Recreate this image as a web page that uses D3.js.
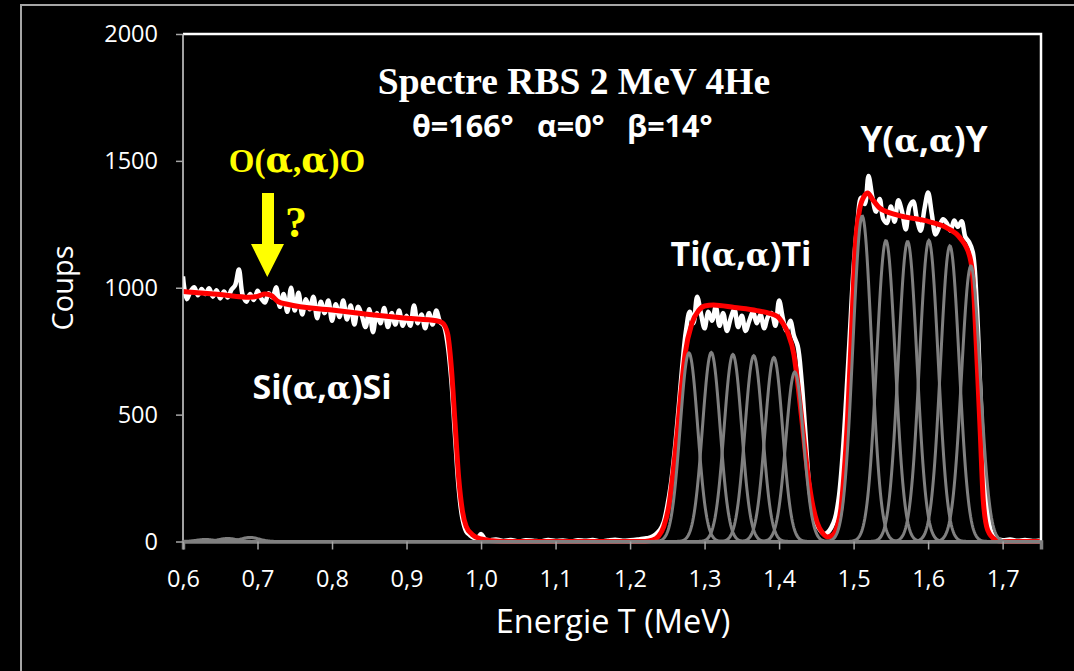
<!DOCTYPE html>
<html><head><meta charset="utf-8">
<script src="https://cdn.jsdelivr.net/npm/d3@7"></script>
<style>body{margin:0;background:#000;} svg{display:block;}</style>
</head><body>
<svg id="c" width="1074" height="671"></svg>
<script>
// ---------- data ----------
const xTickValues = [0.6,0.7,0.8,0.9,1.0,1.1,1.2,1.3,1.4,1.5,1.6,1.7];
const yTickValues = [0,500,1000,1500,2000];

// measured spectrum (white): [energy MeV, counts]
const measured = [
[0.600,1045],[0.605,955],[0.610,985],[0.615,1002],[0.620,970],[0.625,995],[0.630,975],[0.635,998],
[0.640,965],[0.645,990],[0.650,958],[0.655,985],[0.660,962],[0.665,992],[0.670,1010],[0.675,1072],
[0.680,972],[0.685,945],[0.690,975],[0.695,952],[0.700,988],[0.705,958],[0.710,942],[0.715,978],
[0.720,962],[0.725,1002],[0.730,925],[0.735,975],[0.740,905],[0.745,1000],[0.750,910],[0.755,980],
[0.760,895],[0.765,955],[0.770,915],[0.775,965],[0.780,880],[0.785,945],[0.790,900],[0.795,950],
[0.800,870],[0.805,935],[0.810,885],[0.815,950],[0.820,875],[0.825,930],[0.830,855],[0.835,925],
[0.840,890],[0.845,845],[0.850,915],[0.855,825],[0.860,900],[0.865,860],[0.870,920],[0.875,845],
[0.880,900],[0.885,855],[0.890,910],[0.895,850],[0.900,890],[0.905,850],[0.910,930],[0.915,860],
[0.920,895],[0.925,840],[0.930,900],[0.935,855],[0.940,910],[0.945,865],[0.950,850],[0.955,780],
[0.960,640],[0.965,420],[0.970,210],[0.975,90],[0.980,40],[0.985,25],[0.990,15],[0.995,12],
[1.000,30],[1.005,10],[1.010,5],[1.020,8],[1.030,2],[1.040,6],[1.050,0],[1.060,5],[1.070,3],
[1.080,0],[1.090,6],[1.100,2],[1.110,4],[1.120,0],[1.130,5],[1.140,3],[1.150,6],[1.160,0],
[1.170,4],[1.180,7],[1.190,3],[1.200,5],[1.210,8],[1.215,10],[1.220,12],[1.225,14],[1.230,20],
[1.235,30],[1.240,45],[1.245,75],[1.250,140],[1.255,230],[1.260,360],[1.265,520],[1.270,690],
[1.275,830],[1.280,905],[1.285,860],[1.290,965],[1.295,900],[1.300,840],[1.305,905],[1.310,870],
[1.315,925],[1.320,850],[1.325,900],[1.330,830],[1.335,880],[1.340,915],[1.345,845],[1.350,890],
[1.355,830],[1.360,870],[1.365,905],[1.370,860],[1.375,895],[1.380,840],[1.385,885],[1.390,900],
[1.395,850],[1.400,950],[1.405,880],[1.410,830],[1.415,870],[1.420,810],[1.425,770],[1.430,640],
[1.435,440],[1.440,230],[1.445,120],[1.450,70],[1.455,45],[1.460,30],[1.465,35],[1.470,55],
[1.475,90],[1.480,170],[1.485,330],[1.490,560],[1.495,820],[1.500,1080],[1.505,1250],[1.510,1355],
[1.515,1330],[1.520,1440],[1.525,1360],[1.530,1300],[1.535,1350],[1.540,1270],[1.545,1255],
[1.550,1320],[1.555,1260],[1.560,1345],[1.565,1300],[1.570,1230],[1.575,1320],[1.580,1340],
[1.585,1270],[1.590,1225],[1.595,1310],[1.600,1375],[1.605,1290],[1.610,1210],[1.615,1240],
[1.620,1270],[1.625,1255],[1.630,1225],[1.635,1265],[1.640,1240],[1.645,1262],[1.650,1200],
[1.655,1180],[1.660,1140],[1.665,950],[1.670,600],[1.675,300],[1.680,110],[1.685,35],[1.690,12],
[1.700,5],[1.710,8],[1.720,3],[1.730,6],[1.740,2],[1.750,4]
];

// simulated spectrum (red): [energy MeV, counts]
const simulated = [
[0.600,985],[0.650,973],[0.690,963],[0.700,966],[0.710,975],[0.718,970],[0.728,945],[0.740,935],
[0.800,912],[0.850,895],[0.900,880],[0.940,870],[0.948,862],[0.955,820],[0.960,690],[0.965,470],
[0.970,250],[0.975,120],[0.980,60],[0.988,28],[1.000,10],[1.015,3],[1.030,0],[1.220,0],[1.230,5],
[1.238,20],[1.245,57],[1.252,140],[1.258,282],[1.264,450],[1.268,580],[1.274,742],[1.283,860],
[1.292,910],[1.300,928],[1.312,932],[1.340,922],[1.370,910],[1.397,888],[1.405,860],[1.412,820],
[1.420,735],[1.426,600],[1.432,440],[1.438,280],[1.444,160],[1.451,75],[1.458,35],[1.465,18],
[1.472,25],[1.478,60],[1.483,130],[1.487,260],[1.492,491],[1.498,885],[1.502,1149],[1.508,1307],
[1.514,1360],[1.519,1373],[1.525,1350],[1.535,1314],[1.558,1287],[1.602,1260],[1.625,1236],
[1.643,1196],[1.656,1122],[1.660,1043],[1.665,755],[1.670,428],[1.674,164],[1.680,45],[1.690,8],
[1.700,0],[1.752,0]
];

// fitted gaussian components (grey): centres, heights, widths
const tiPeakE = [1.279,1.309,1.338,1.366,1.393,1.421];
const tiPeakH = [743,745,737,732,725,668];
const tiSigma = [0.0118,0.0118,0.0118,0.0118,0.0118,0.0118];
const yPeakE = [1.5116,1.5434,1.5725,1.601,1.6292,1.6574];
const yPeakH = [1282,1186,1182,1186,1165,1086];
const ySigma = [0.0125,0.0125,0.0125,0.0125,0.0125,0.0125];
const oPeakE = [0.630,0.660,0.690];
const oPeakH = [8,12,16];
const oSigma = [0.012,0.012,0.012];

// ---------- drawing ----------
const svg = d3.select("#c");
const W = 1074, H = 671;
svg.append("rect").attr("width",W).attr("height",H).attr("fill","#000");
svg.append("rect").attr("x",21).attr("y",5).attr("width",1100).attr("height",700)
   .attr("fill","none").attr("stroke","#a6a6a6").attr("stroke-width",2);

const m = {l:183, t:34, r:1041, b:541.5};
const x = d3.scaleLinear().domain([0.6,1.7515]).range([m.l,m.r]);
const y = d3.scaleLinear().domain([0,2000]).range([m.b,m.t]);

svg.append("defs").append("clipPath").attr("id","clp")
  .append("rect").attr("x",m.l).attr("y",m.t-20).attr("width",m.r-m.l).attr("height",m.b-m.t+25);
const plot = svg.append("g").attr("clip-path","url(#clp)");

plot.append("path").datum(measured)
  .attr("d", d3.line().x(d=>x(d[0])).y(d=>y(d[1])).curve(d3.curveCatmullRom.alpha(0.5)))
  .attr("fill","none").attr("stroke","#fff").attr("stroke-width",4.5).attr("stroke-linejoin","round");

plot.append("path").datum(simulated)
  .attr("d", d3.line().x(d=>x(d[0])).y(d=>y(d[1])).curve(d3.curveMonotoneX))
  .attr("fill","none").attr("stroke","#ff0000").attr("stroke-width",5).attr("stroke-linejoin","round");

const grid = d3.range(0.595, 1.756, 0.001);
function gauss(c,h,s){ return grid.map(e=>[e, h*Math.exp(-((e-c)*(e-c))/(2*s*s))]); }
const comps = [];
tiPeakE.forEach((c,i)=>comps.push(gauss(c,tiPeakH[i],tiSigma[i])));
yPeakE.forEach((c,i)=>comps.push(gauss(c,yPeakH[i],ySigma[i])));
oPeakE.forEach((c,i)=>comps.push(gauss(c,oPeakH[i],oSigma[i])));
plot.selectAll("path.g").data(comps).enter().append("path").attr("class","g")
  .attr("d", d3.line().x(d=>x(d[0])).y(d=>y(d[1])))
  .attr("fill","none").attr("stroke","#808080").attr("stroke-width",3);

svg.append("path").attr("d",`M${m.l},${m.t}H${m.r}V${m.b}`).attr("fill","none")
  .attr("stroke","#fff").attr("stroke-width",2.5);
svg.append("line").attr("x1",m.l).attr("x2",m.l).attr("y1",m.t).attr("y2",m.b)
  .attr("stroke","#d9d9d9").attr("stroke-width",1.5);

const tickFont = "'Open Sans', sans-serif";
const fmt = d => d3.format(".1f")(d).replace(".",",");
const gx = svg.append("g").attr("transform",`translate(0,${m.b})`)
  .call(d3.axisBottom(x).tickValues(xTickValues).tickFormat(fmt).tickSize(8).tickPadding(21));
gx.select(".domain").attr("stroke","#808080").attr("stroke-width",3.5);
gx.selectAll(".tick line").attr("stroke","#a6a6a6").attr("stroke-width",1.5);
gx.selectAll("text").attr("fill","#fff").attr("font-family",tickFont).attr("font-size",23.5);

const gy = svg.append("g").attr("transform",`translate(${m.l},0)`)
  .call(d3.axisLeft(y).tickValues(yTickValues).tickFormat(d3.format("d")).tickSize(7).tickPadding(18));
gy.select(".domain").remove();
gy.selectAll(".tick line").attr("stroke","#a6a6a6").attr("stroke-width",1.5);
gy.selectAll("text").attr("fill","#fff").attr("font-family",tickFont).attr("font-size",23.5);

svg.append("text").attr("transform","translate(73,288) rotate(-90)").attr("text-anchor","middle")
  .attr("fill","#fff").attr("font-family",tickFont).attr("font-size",29).text("Coups");
svg.append("text").attr("x",613).attr("y",633).attr("text-anchor","middle")
  .attr("fill","#fff").attr("font-family",tickFont).attr("font-size",32.5).text("Energie T (MeV)");

svg.append("text").attr("x",574).attr("y",94).attr("text-anchor","middle")
  .attr("fill","#fff").attr("font-family","'Liberation Serif', 'Times New Roman', serif")
  .attr("font-weight","bold").attr("font-size",37.5).text("Spectre RBS 2 MeV 4He");
const sub = [["θ=166°",412],["α=0°",537],["β=14°",627]];
sub.forEach(s=>svg.append("text").attr("x",s[1]).attr("y",137)
  .attr("fill","#fff").attr("font-family","'Open Sans', sans-serif").attr("font-weight","bold")
  .attr("font-size",30.5).text(s[0]));

function label(parts, cx, by, size, fam, col, aScale){
  const t = svg.append("text").attr("x",cx).attr("y",by).attr("text-anchor","middle")
    .attr("fill",col).attr("font-weight","bold").attr("font-size",size).attr("font-family",fam);
  parts.forEach(p=>{
    const s = t.append("tspan").text(p);
    if(p==="α") s.attr("font-family","'DejaVu Serif', serif").attr("font-size",size*aScale);
  });
}
label(["Ti(","α",",","α",")Ti"],741,266,34,"'Open Sans', sans-serif","#fff",0.92);
label(["Y(","α",",","α",")Y"],924,152,35,"'Open Sans', sans-serif","#fff",0.92);
label(["Si(","α",",","α",")Si"],322,399,34,"'Open Sans', sans-serif","#fff",0.92);
label(["O(","α",",","α",")O"],297,172,33,"'Liberation Serif', serif","#ffff00",1.08);

svg.append("text").attr("x",296).attr("y",237).attr("text-anchor","middle")
  .attr("fill","#ffff00").attr("font-family","'Liberation Serif', serif").attr("font-weight","bold")
  .attr("font-size",44).text("?");
svg.append("path").attr("d","M262,193H274V244H284L267.3,277L251,244H262Z").attr("fill","#ffff00");
</script>
</body></html>
